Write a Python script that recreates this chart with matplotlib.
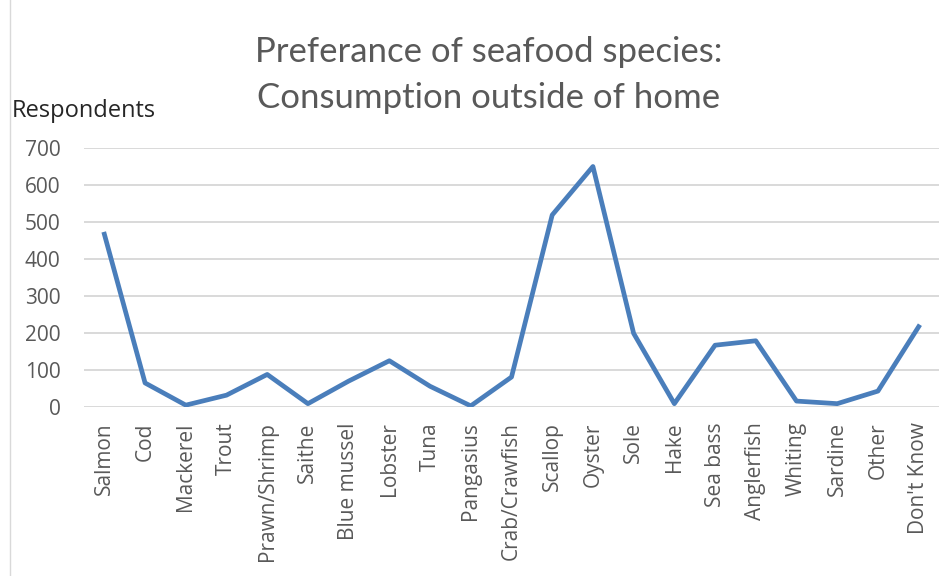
import matplotlib.pyplot as plt
from matplotlib.lines import Line2D

# data
species = ["Salmon", "Cod", "Mackerel", "Trout", "Prawn/Shrimp", "Saithe",
           "Blue mussel", "Lobster", "Tuna", "Pangasius", "Crab/Crawfish",
           "Scallop", "Oyster", "Sole", "Hake", "Sea bass", "Anglerfish",
           "Whiting", "Sardine", "Other", "Don't Know"]
respondents = [467, 65, 5, 32, 88, 9, 70, 125, 56, 3, 81,
               519, 650, 199, 9, 167, 179, 16, 9, 43, 217]
y_ticks = [0, 100, 200, 300, 400, 500, 600, 700]

plt.rcParams['font.family'] = ['Open Sans', 'DejaVu Sans']

fig = plt.figure(figsize=(9.52, 5.76), dpi=100)
ax = fig.add_axes([84 / 952, 1 - 407 / 576, 855 / 952, 259 / 576])

x = list(range(len(species)))
ax.plot(x, respondents, color='#4A7EBB', lw=3.4)

ax.set_xlim(-0.5, len(species) - 0.5)
ax.set_ylim(0, 700)
ax.set_yticks(y_ticks)
ax.set_xticks(x)
ax.set_xticklabels(species, rotation=90)
ax.grid(axis='y', color='#D9D9D9', lw=1.4)
ax.set_axisbelow(True)
for s in ax.spines.values():
    s.set_visible(False)
ax.tick_params(axis='both', length=0, labelsize=15, colors='#595959')
ax.tick_params(axis='y', pad=17)
ax.tick_params(axis='x', pad=11)

# title, two lines
fig.text(489 / 952, 1 - 62 / 576, "Preferance of seafood species:",
         ha='center', va='baseline', fontsize=25, color='#595959', family='Lato')
fig.text(489 / 952, 1 - 108 / 576, "Consumption outside of home",
         ha='center', va='baseline', fontsize=25, color='#595959', family='Lato')
fig.text(12 / 952, 1 - 117 / 576, "Respondents", ha='left', va='baseline',
         fontsize=17, color='#262626')

# left border line from the screenshot
fig.add_artist(Line2D([10 / 952, 10 / 952], [0, 1], transform=fig.transFigure,
                      color='#D9D9D9', lw=1))

fig.savefig('out.png', dpi=100)
